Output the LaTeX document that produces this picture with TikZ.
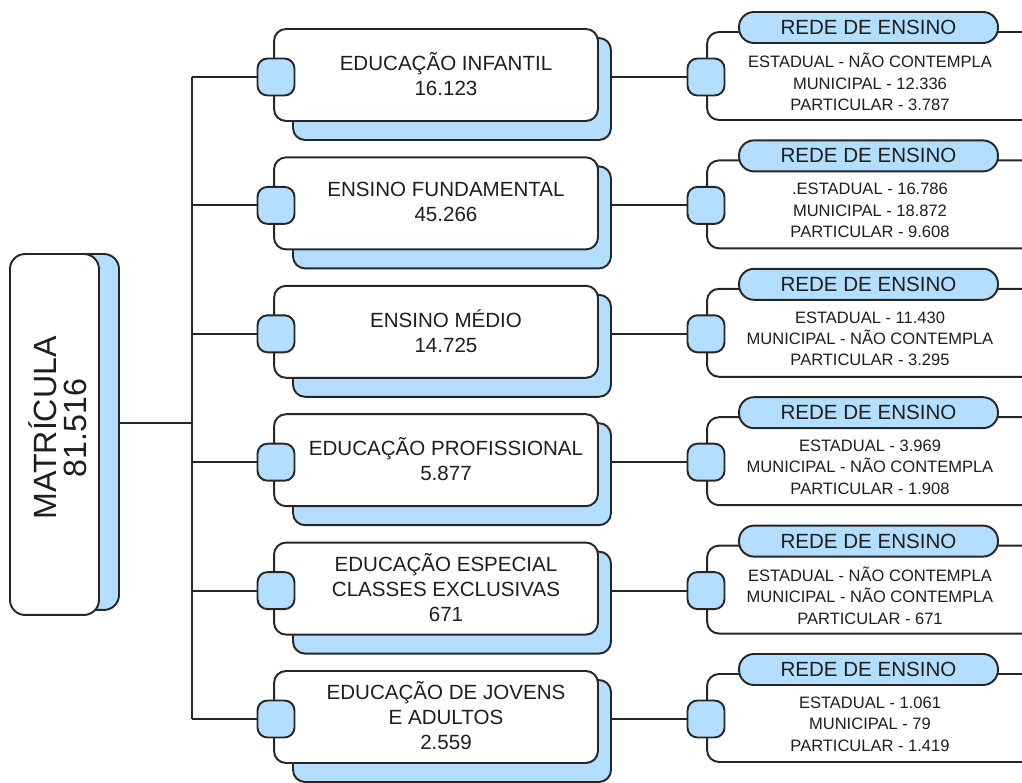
\documentclass[tikz,border=0pt]{standalone}
\usepackage{fontspec}
\setmainfont{Liberation Sans}
\usetikzlibrary{positioning}
\definecolor{azulclaro}{RGB}{179,222,255}
\definecolor{texto}{RGB}{30,30,30}

\begin{document}
\begin{tikzpicture}[
    x=0.02cm, y=-0.02cm,
    every node/.style={text=texto},
    linha/.style={draw=black!85, line width=1.1pt},
    frente/.style={linha, fill=white, rounded corners=0.24cm, minimum width=6.48cm, minimum height=1.84cm, inner sep=0pt},
    nome/.style={align=center, inner sep=0pt, font=\fontsize{11.7}{14.2}\selectfont},
    sombra/.style={linha, fill=azulclaro, rounded corners=0.24cm, minimum width=6.36cm, minimum height=2.04cm, inner sep=0pt},
    porta/.style={linha, fill=azulclaro, rounded corners=0.2cm, minimum size=0.74cm, inner sep=0pt},
    rede/.style={linha, fill=white, rounded corners=0.24cm, minimum width=6.66cm, minimum height=1.76cm, inner sep=0pt},
    cabeca/.style={linha, fill=azulclaro, rounded corners=0.3cm, minimum width=5.18cm, minimum height=0.62cm, inner sep=0pt, font=\fontsize{11.7}{14}\selectfont},
    dados/.style={align=center, inner sep=0pt, font=\fontsize{9.4}{12.2}\selectfont}
]
\clip (0,0) rectangle (1022,783);

% total de matriculas
\node[linha, fill=azulclaro, rounded corners=0.3cm, minimum width=1.78cm, minimum height=7.12cm, inner sep=0pt] (matsombra) at (74.5,432) {};
\node[linha, fill=white, rounded corners=0.3cm, minimum width=1.78cm, minimum height=7.22cm, inner sep=0pt] (matricula) at (54.5,434.5) {};
\node[rotate=90, align=center, inner sep=0pt, font=\fontsize{18.3}{17}\selectfont] (mattexto) at (58,428) {MATRÍCULA\\81.516};

\coordinate (tronco) at (192,423);
\coordinate (topo) at (192,77);
\coordinate (base) at (192,719);
\draw[linha] (matsombra.east |- tronco) -- (tronco);
\draw[linha] (topo) -- (base);

% niveis de ensino e redes
\foreach \i/\nivel/\redes in {
    1/{EDUCAÇÃO INFANTIL\\16.123}/{ESTADUAL - NÃO CONTEMPLA\\MUNICIPAL - 12.336\\PARTICULAR - 3.787},
    2/{ENSINO FUNDAMENTAL\\45.266}/{.ESTADUAL - 16.786\\MUNICIPAL - 18.872\\PARTICULAR - 9.608},
    3/{ENSINO MÉDIO\\14.725}/{ESTADUAL - 11.430\\MUNICIPAL - NÃO CONTEMPLA\\PARTICULAR - 3.295},
    4/{EDUCAÇÃO PROFISSIONAL\\5.877}/{ESTADUAL - 3.969\\MUNICIPAL - NÃO CONTEMPLA\\PARTICULAR - 1.908},
    5/{EDUCAÇÃO ESPECIAL\\CLASSES EXCLUSIVAS\\671}/{ESTADUAL - NÃO CONTEMPLA\\MUNICIPAL - NÃO CONTEMPLA\\PARTICULAR - 671},
    6/{EDUCAÇÃO DE JOVENS\\E ADULTOS\\2.559}/{ESTADUAL - 1.061\\MUNICIPAL - 79\\PARTICULAR - 1.419}} {
  \pgfmathsetmacro\y{77+128.4*(\i-1)}
  \node[sombra] (sombra\i) at (452,\y+12) {};
  \node[frente] (nivel\i) at (436,\y-2) {};
  \node[nome] (nome\i) at (446,\y-3) {\nivel};
  \node[porta] (porta\i) at (276,\y) {};
  \draw[linha] (topo |- porta\i) -- (porta\i.west);

  \node[rede] (rede\i) at (873.5,\y-1) {};
  \node[cabeca] (cabeca\i) at (868.5,\y-49.5) {REDE DE ENSINO};
  \node[dados] (dados\i) at (870,\y+5) {\redes};
  \node[porta] (saida\i) at (706,\y) {};
  \draw[linha] (sombra\i.east |- saida\i) -- (saida\i.west);
}

\end{tikzpicture}
\end{document}
